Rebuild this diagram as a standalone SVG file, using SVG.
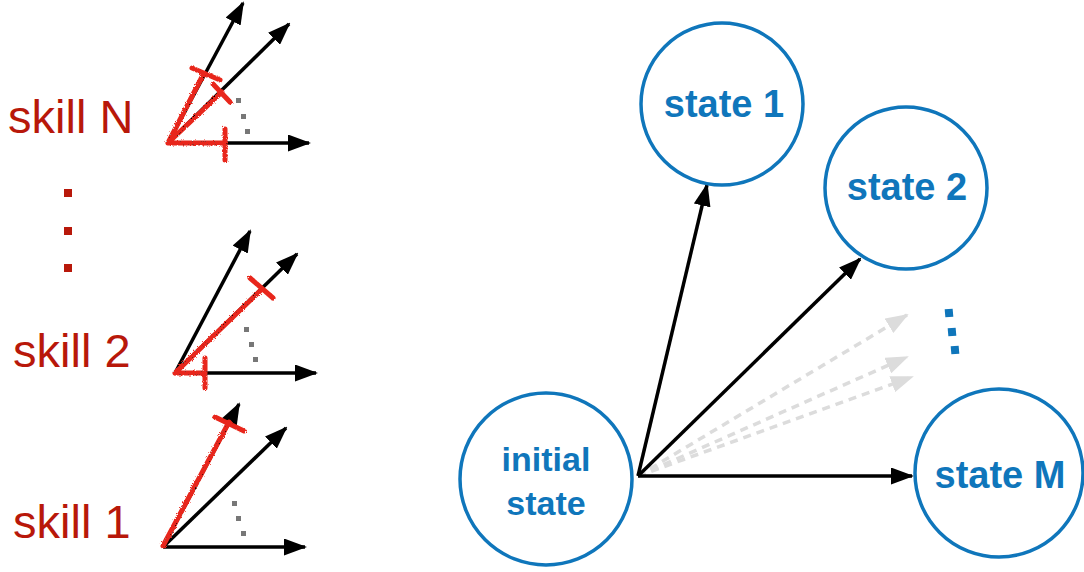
<svg xmlns="http://www.w3.org/2000/svg" width="1084" height="572" viewBox="0 0 1084 572">
<style>
.lbl{font-family:"Liberation Sans",Arial,sans-serif;font-size:47px;fill:#b8180a}
.st{font-family:"Liberation Sans",Arial,sans-serif;font-weight:bold;font-size:38px;fill:#0f76bb;text-anchor:middle}
.st2{font-family:"Liberation Sans",Arial,sans-serif;font-weight:bold;font-size:34px;fill:#0f76bb;text-anchor:middle}
.circ{fill:none;stroke:#0f76bb;stroke-width:3.5}
.ar{stroke:#000;stroke-width:3.5;fill:none;marker-end:url(#ah)}
.gr{stroke:#dcdcdc;stroke-width:3.5;fill:none;stroke-dasharray:8 6;marker-end:url(#gh)}
.red{stroke:#e8261a;stroke-width:5;fill:none;stroke-linecap:round;filter:url(#rough)}
.gd{fill:#777}
.rd{fill:#b8180a}
.bd{fill:#0f76bb}
</style>
<defs>
<marker id="ah" markerUnits="userSpaceOnUse" markerWidth="23" markerHeight="17" refX="21" refY="8.5" orient="auto">
<path d="M0,0 L23,8.5 L0,17 z" fill="#000"/>
</marker>
<marker id="gh" markerUnits="userSpaceOnUse" markerWidth="23" markerHeight="17" refX="21" refY="8.5" orient="auto">
<path d="M0,0 L23,8.5 L0,17 z" fill="#dcdcdc"/>
</marker>
<filter id="rough" x="-20%" y="-20%" width="140%" height="140%">
<feTurbulence type="fractalNoise" baseFrequency="0.9" numOctaves="2" seed="3"/>
<feDisplacementMap in="SourceGraphic" scale="3"/>
</filter>
</defs>

<g id="skill-labels">
<text class="lbl" x="8" y="133">skill N</text>
<rect class="rd" x="64" y="189" width="8" height="8"/>
<rect class="rd" x="64" y="227" width="8" height="8"/>
<rect class="rd" x="64" y="264" width="8" height="8"/>
<text class="lbl" x="13" y="367">skill 2</text>
<text class="lbl" x="13" y="538">skill 1</text>
</g>

<g id="skillN">
<line class="ar" x1="168" y1="143" x2="309" y2="143"/>
<line class="ar" x1="168" y1="143" x2="243" y2="3"/>
<line class="ar" x1="168" y1="143" x2="289" y2="24"/>
<rect class="gd" x="236" y="98" width="5" height="5"/>
<rect class="gd" x="241" y="114" width="5" height="5"/>
<rect class="gd" x="245" y="129" width="5" height="5"/>
<path class="red" d="M168,143 L204,73 M192,68 L220,80 M170,141 L222,92 M213,84 L230,102 M168,143 L225,143 M225,129 L225,160"/>
</g>

<g id="skill2">
<line class="ar" x1="175" y1="373" x2="316" y2="373"/>
<line class="ar" x1="175" y1="373" x2="250" y2="231"/>
<line class="ar" x1="175" y1="373" x2="297" y2="254"/>
<rect class="gd" x="244" y="327" width="5" height="5"/>
<rect class="gd" x="249" y="342" width="5" height="5"/>
<rect class="gd" x="253" y="357" width="5" height="5"/>
<path class="red" d="M175,373 L262,289 M250,278 L273,298 M175,373 L205,373 M205,358 L205,388"/>
</g>

<g id="skill1">
<line class="ar" x1="163" y1="547" x2="305" y2="547"/>
<line class="ar" x1="163" y1="547" x2="239" y2="404"/>
<line class="ar" x1="163" y1="547" x2="286" y2="428"/>
<rect class="gd" x="232" y="501" width="5" height="5"/>
<rect class="gd" x="236" y="516" width="5" height="5"/>
<rect class="gd" x="241" y="531" width="5" height="5"/>
<path class="red" d="M163,546 L229,422 M215,417 L244,431"/>
</g>

<g id="connectors">
<line class="gr" x1="638" y1="476" x2="907" y2="315"/>
<line class="gr" x1="638" y1="476" x2="907" y2="357"/>
<line class="gr" x1="638" y1="476" x2="912" y2="377"/>
<line class="ar" x1="638" y1="476" x2="707" y2="185"/>
<line class="ar" x1="638" y1="476" x2="860" y2="259"/>
<line class="ar" x1="638" y1="476" x2="912" y2="476"/>
</g>

<g id="state1">
<circle class="circ" cx="722" cy="104" r="81"/>
<text class="st" x="724" y="117">state 1</text>
</g>
<g id="state2">
<circle class="circ" cx="906" cy="188" r="81"/>
<text class="st" x="907" y="200">state 2</text>
</g>
<g id="more-states">
<rect class="bd" x="945" y="309" width="8" height="8" transform="rotate(-5 949 313)"/>
<rect class="bd" x="948" y="328" width="8" height="8" transform="rotate(-5 952 332)"/>
<rect class="bd" x="951" y="346" width="8" height="8" transform="rotate(-5 955 350)"/>
</g>
<g id="stateM">
<circle class="circ" cx="999" cy="473" r="84"/>
<text class="st" x="1000" y="488">state M</text>
</g>
<g id="initial">
<circle class="circ" cx="546" cy="479" r="86"/>
<text class="st2" x="546" y="471">initial</text>
<text class="st2" x="546" y="515">state</text>
</g>
</svg>
